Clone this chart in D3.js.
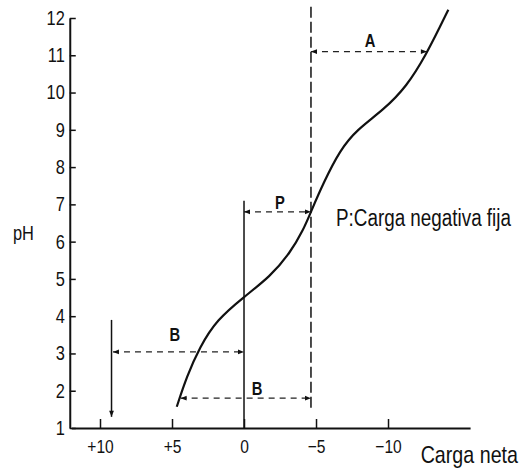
<!DOCTYPE html>
<html>
<head>
    <meta charset="utf-8">
    <style>
        body { margin: 0; background: #fff; }
        svg { font-family: "Liberation Sans", Arial, sans-serif; }
        .axis path, .axis line { stroke: #111; }
        .axis path { stroke-width: 2px; }
        .axis line { stroke-width: 1.5px; }
        .axis text { fill: #111; }
        path.curve { fill: none; stroke: #111; stroke-width: 2.2px; }
        line.guide { stroke: #111; stroke-width: 1.5px; }
        line.dashed { stroke-dasharray: 11, 4; }
        line.dim { stroke: #222; stroke-width: 1.2px; stroke-dasharray: 6, 5; }
        text.mark { font-weight: bold; font-size: 18px; fill: #111; }
    </style>
</head>
<body>
<div id="chart"></div>
<script src="https://cdn.jsdelivr.net/npm/d3@7"></script>
<script>

    // carga neta vs pH
    var charge = [4.67, 3.98, 3.06, 1.90, 0, -1.81, -3.19, -4.12, -4.70, -5.51, -6.67, -7.83, -9.67, -11.30, -12.69, -13.61, -14.19];
    var ph = [1.57, 2.38, 3.18, 3.90, 4.52, 5.06, 5.69, 6.31, 6.85, 7.57, 8.46, 9.00, 9.53, 10.16, 11.05, 11.77, 12.22];

    var phTicks = [1, 2, 3, 4, 5, 6, 7, 8, 9, 10, 11, 12];
    var chargeTicks = [10, 5, 0, -5, -10];
    var chargeLabels = ["+10", "+5", "0", "\u22125", "\u221210"];

    // guide lines: [charge1, pH1, charge2, pH2]
    var solidLines = [[0, 7.1, 0, 1], [9.2, 3.9, 9.2, 1.3]];
    var dashedLines = [[-4.65, 12.3, -4.65, 1.5]];
    // dimension arrows: [charge from, charge to, pH]
    var arrows = [[-4.65, -12.7, 11.1], [0, -4.65, 6.8], [9.1, 0, 3.04], [4.4, -4.65, 1.8]];
    var arrowLabels = ["A", "P", "B", "B"];
    var labelPos = [[-8.75, 11.4], [-2.5, 7.05], [4.8, 3.5], [-0.9, 2.07]];

    var width = 520, height = 470;
    var narrow = 0.82;

    var svg = d3.select("#chart").append("svg")
        .attr("width", width)
        .attr("height", height);

    var x = d3.scaleLinear().domain([12, -15.7]).range([71.2, 470.1]);
    var y = d3.scaleLinear().domain([1, 12]).range([428, 18]);

    function squeeze(sel) {
        sel.attr("transform", "scale(" + narrow + ",1)");
    }

    function addText(px, py, size, txt, anchor) {
        return svg.append("text")
            .attr("x", px / narrow).attr("y", py)
            .attr("transform", "scale(" + narrow + ",1)")
            .attr("text-anchor", anchor || "start")
            .style("font-size", size + "px")
            .style("fill", "#111")
            .text(txt);
    }

    var defs = svg.append("defs");
    defs.append("marker")
        .attr("id", "head")
        .attr("viewBox", "0 0 10 10")
        .attr("refX", 10).attr("refY", 5)
        .attr("markerWidth", 9).attr("markerHeight", 6)
        .attr("markerUnits", "userSpaceOnUse")
        .attr("orient", "auto-start-reverse")
        .append("path")
        .attr("d", "M0,1L10,5L0,9Z")
        .attr("fill", "#111");

    var yAxis = svg.append("g")
        .attr("class", "axis")
        .attr("transform", "translate(" + x(12.1) + ",0)")
        .call(d3.axisLeft(y).tickValues(phTicks).tickSize(-6).tickSizeOuter(0).tickPadding(6));
    yAxis.selectAll("text").style("font-size", "20px").call(squeeze);

    var xAxis = svg.append("g")
        .attr("class", "axis")
        .attr("transform", "translate(0," + y(1) + ")")
        .call(d3.axisBottom(x).tickValues(chargeTicks).tickSize(-9).tickSizeOuter(0).tickPadding(12)
            .tickFormat(function (d, i) { return chargeLabels[i]; }));
    xAxis.selectAll("text").style("font-size", "19px").call(squeeze);

    addText(13, 240, 20, "pH");
    addText(518, 463, 24, "Carga neta", "end");
    addText(336, 226, 23, "P:Carga negativa fija");

    svg.selectAll("line.solid")
        .data(solidLines)
        .enter().append("line")
        .attr("class", "guide solid")
        .attr("x1", function (d) { return x(d[0]); })
        .attr("y1", function (d) { return y(d[1]); })
        .attr("x2", function (d) { return x(d[2]); })
        .attr("y2", function (d) { return y(d[3]); })
        .attr("marker-end", function (d, i) { return i == 1 ? "url(#head)" : null; });

    svg.selectAll("line.dashed")
        .data(dashedLines)
        .enter().append("line")
        .attr("class", "guide dashed")
        .attr("x1", function (d) { return x(d[0]); })
        .attr("y1", function (d) { return y(d[1]); })
        .attr("x2", function (d) { return x(d[2]); })
        .attr("y2", function (d) { return y(d[3]); });

    svg.selectAll("line.dim")
        .data(arrows)
        .enter().append("line")
        .attr("class", "dim")
        .attr("x1", function (d) { return x(d[0]); })
        .attr("x2", function (d) { return x(d[1]); })
        .attr("y1", function (d) { return y(d[2]); })
        .attr("y2", function (d) { return y(d[2]); })
        .attr("marker-start", "url(#head)")
        .attr("marker-end", "url(#head)");

    svg.selectAll("text.mark")
        .data(arrowLabels)
        .enter().append("text")
        .attr("class", "mark")
        .attr("text-anchor", "middle")
        .attr("dy", "0.36em")
        .attr("transform", "scale(" + narrow + ",1)")
        .attr("x", function (d, i) { return x(labelPos[i][0]) / narrow; })
        .attr("y", function (d, i) { return y(labelPos[i][1]); })
        .text(function (d) { return d; });

    var line = d3.line()
        .x(function (d) { return x(d[0]); })
        .y(function (d) { return y(d[1]); })
        .curve(d3.curveBasis);

    svg.append("path")
        .attr("class", "curve")
        .attr("d", line(d3.zip(charge, ph)));

</script>
</body>
</html>
